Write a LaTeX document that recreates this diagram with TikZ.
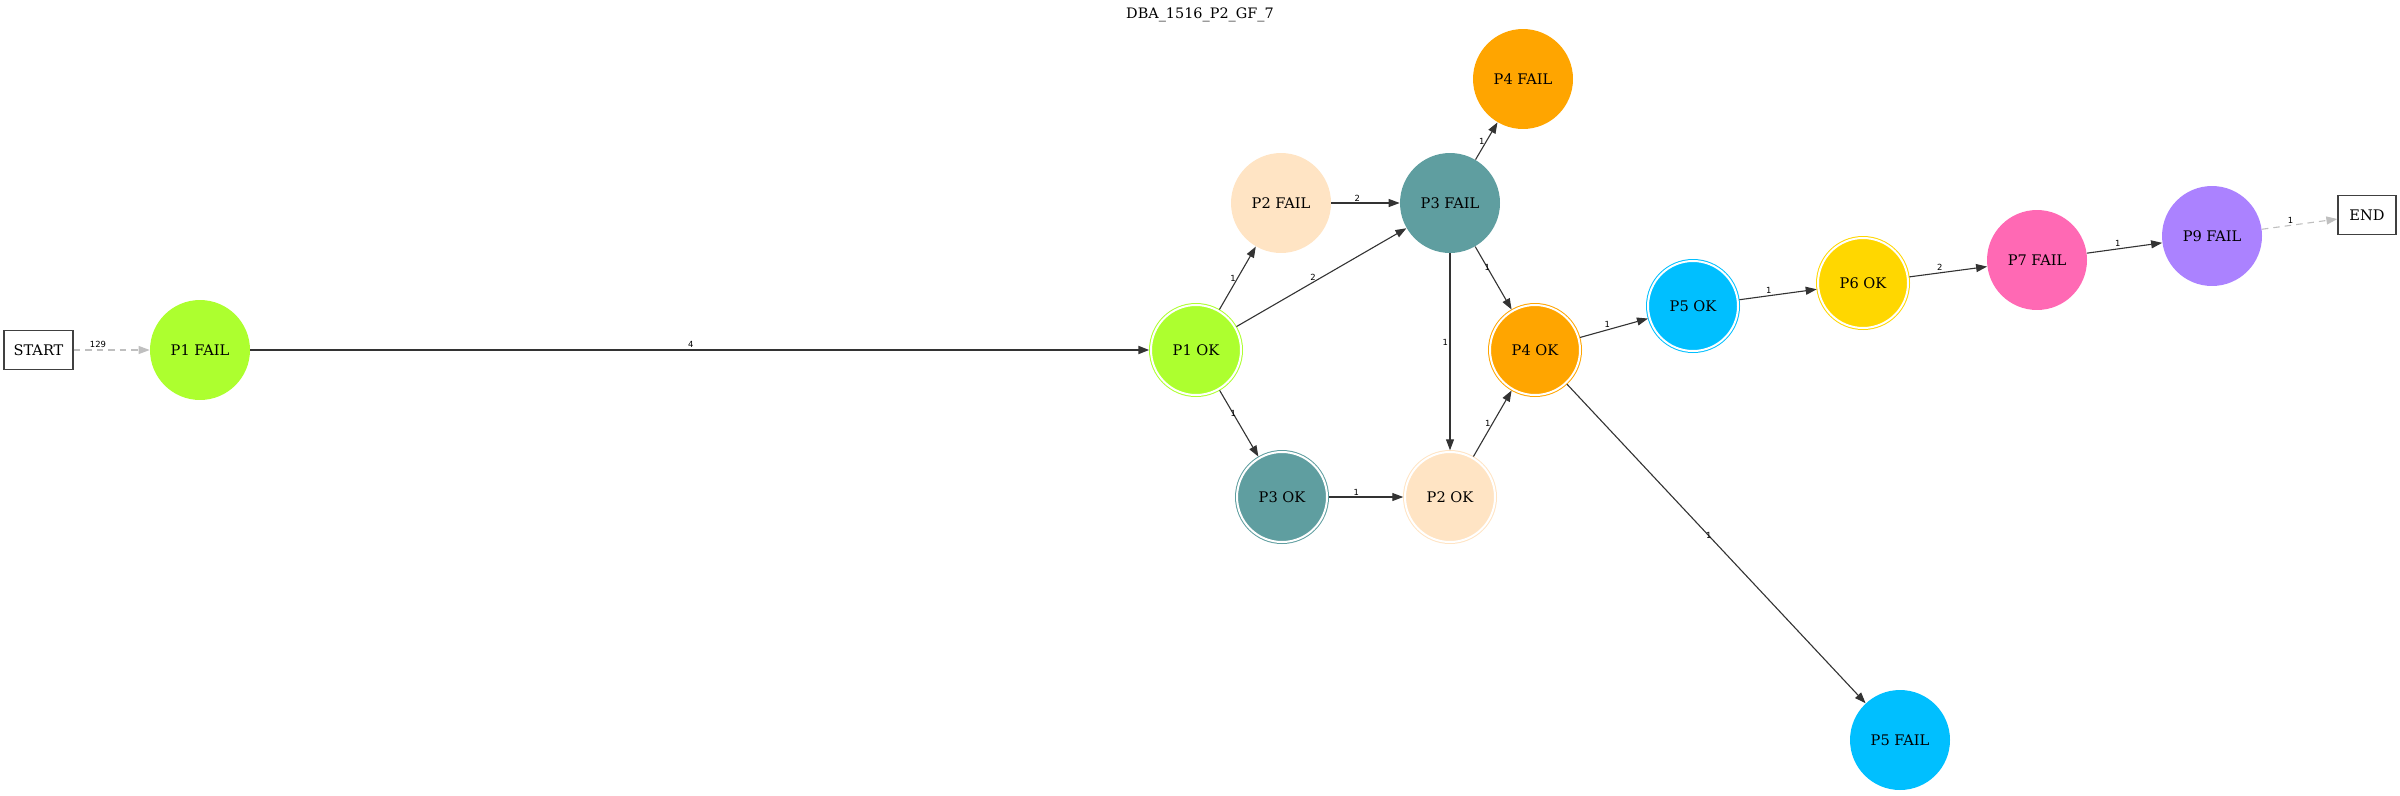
\documentclass[tikz,border=0pt]{standalone}
\usepackage{fontspec}
\setmainfont{DejaVu Serif}
\newfontfamily\edgefont{DejaVu Sans}
\usetikzlibrary{arrows.meta}
\definecolor{pone}{HTML}{ADFF2F}
\definecolor{ptwo}{HTML}{FFE4C4}
\definecolor{pthree}{HTML}{5F9EA0}
\definecolor{pfour}{HTML}{FFA500}
\definecolor{pfive}{HTML}{00BFFF}
\definecolor{psix}{HTML}{FFD700}
\definecolor{pseven}{HTML}{FF69B4}
\definecolor{pnine}{HTML}{AB82FF}
\tikzset{
  failst/.style={circle, fill=#1, minimum size=2cm, inner sep=0pt,
    font=\fontsize{8.3}{10}\selectfont},
  okst/.style={circle, fill=#1, draw=#1, double=white,
    double distance=0.04cm, line width=0.02cm, minimum size=1.8cm,
    inner sep=0pt, outer sep=0.035cm, font=\fontsize{8.3}{10}\selectfont},
  termbox/.style={draw=black!75, line width=0.025cm, minimum height=0.77cm,
    inner sep=0pt, font=\fontsize{8.3}{10}\selectfont},
  myarr/.style={draw=black!80, line width=0.022cm,
    -{Triangle[length=0.22cm,width=0.16cm]}},
  greyarr/.style={draw=black!25, line width=0.022cm,
    dash pattern=on 0.13cm off 0.1cm,
    -{Triangle[length=0.22cm,width=0.16cm]}},
  elabel/.style={font=\edgefont\fontsize{4.8}{5}\selectfont, inner sep=0.8pt},
}
\begin{document}
\begin{tikzpicture}[x=0.02cm,y=-0.02cm]
\useasboundingbox (0,0) rectangle (2400,795);
\node (title) at (1200,15) {\fontsize{8.2}{10}\selectfont DBA\_1516\_P2\_GF\_7};
% states
\node [termbox, minimum width=1.38cm] (start) at (38.5,350) {START};
\node [failst=pone] (p1fail) at (200,350) {P1 FAIL};
\node [okst=pone] (p1ok) at (1196,350) {P1 OK};
\node [failst=ptwo] (p2fail) at (1281,203) {P2 FAIL};
\node [failst=pthree] (p3fail) at (1450,203) {P3 FAIL};
\node [failst=pfour] (p4fail) at (1523,79) {P4 FAIL};
\node [okst=pfour] (p4ok) at (1535,350) {P4 OK};
\node [okst=pthree] (p3ok) at (1282,497) {P3 OK};
\node [okst=ptwo] (p2ok) at (1450,497) {P2 OK};
\node [okst=pfive] (p5ok) at (1693,306) {P5 OK};
\node [okst=psix] (p6ok) at (1863,283) {P6 OK};
\node [failst=pseven] (p7fail) at (2037,260) {P7 FAIL};
\node [failst=pnine] (p9fail) at (2212,236) {P9 FAIL};
\node [failst=pfive] (p5fail) at (1900,740) {P5 FAIL};
\node [termbox, minimum width=1.16cm] (end) at (2367,215) {END};
% transitions
\draw[greyarr]
  (start) -- node[elabel, pos=0.32, above] {129} (p1fail);
\draw[myarr, line width=0.04cm]
  (p1fail) -- node[elabel, pos=0.49, above] {4} (p1ok);
\draw[myarr]
  (p1ok) -- node[elabel, pos=0.5, left] {1} (p2fail);
\draw[myarr]
  (p1ok) -- node[elabel, pos=0.45, above] {2} (p3fail);
\draw[myarr]
  (p1ok) -- node[elabel, pos=0.35] {1} (p3ok);
\draw[myarr]
  (p2fail) -- node[elabel, pos=0.38, above] {2} (p3fail);
\draw[myarr]
  (p3fail) -- node[elabel, pos=0.5, left] {1} (p4fail);
\draw[myarr]
  (p3fail) -- node[elabel, pos=0.33] {1} (p4ok);
\draw[myarr]
  (p3fail) -- node[elabel, pos=0.45, left] {1} (p2ok);
\draw[myarr]
  (p3ok) -- node[elabel, pos=0.37, above] {1} (p2ok);
\draw[myarr]
  (p2ok) -- node[elabel, pos=0.5, left] {1} (p4ok);
\draw[myarr]
  (p4ok) -- node[elabel, pos=0.4, above] {1} (p5ok);
\draw[myarr]
  (p4ok) -- node[elabel, pos=0.475] {1} (p5fail);
\draw[myarr]
  (p5ok) -- node[elabel, pos=0.38, above] {1} (p6ok);
\draw[myarr]
  (p6ok) -- node[elabel, pos=0.39, above] {2} (p7fail);
\draw[myarr]
  (p7fail) -- node[elabel, pos=0.41, above] {1} (p9fail);
\draw[greyarr]
  (p9fail) -- node[elabel, pos=0.38, above] {1} (end);
\end{tikzpicture}
\end{document}
